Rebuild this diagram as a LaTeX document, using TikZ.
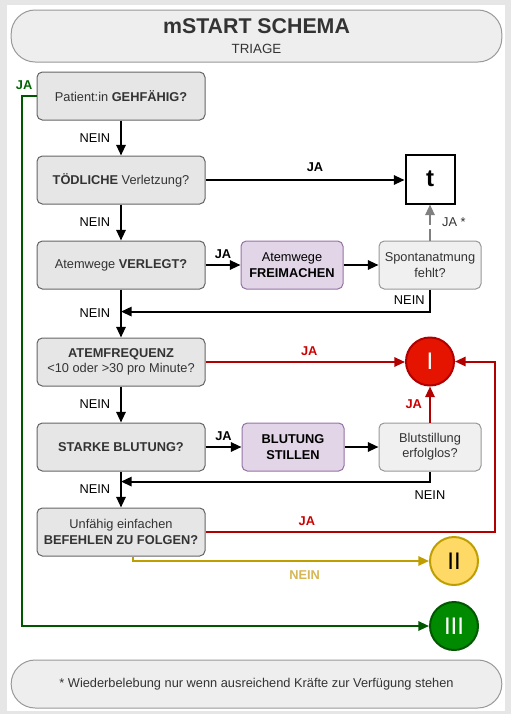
\documentclass[tikz,border=0pt]{standalone}
\usepackage{fontspec}
\setmainfont{Liberation Sans}
\usetikzlibrary{positioning, calc, arrows.meta}

\definecolor{pagegray}{HTML}{E6E6E6}
\definecolor{pillfill}{HTML}{EEEEEE}
\definecolor{boxfill}{HTML}{E6E6E6}
\definecolor{boxline}{HTML}{666666}
\definecolor{checkfill}{HTML}{F0F0F0}
\definecolor{checkline}{HTML}{999999}
\definecolor{actfill}{HTML}{E1D5E7}
\definecolor{actline}{HTML}{9673A6}
\definecolor{redfill}{HTML}{E51400}
\definecolor{redline}{HTML}{B20000}
\definecolor{redtext}{HTML}{CC0000}
\definecolor{yellowfill}{HTML}{FFD966}
\definecolor{yellowline}{HTML}{BF9F00}
\definecolor{yellowtext}{HTML}{D6B656}
\definecolor{greenfill}{HTML}{008A00}
\definecolor{greenline}{HTML}{005700}
\definecolor{greentext}{HTML}{006600}
\definecolor{textgray}{HTML}{333333}

\begin{document}
\begin{tikzpicture}[x=0.75pt, y=-0.75pt,
				font=\fontsize{9.6}{11.5}\selectfont,
				>={Triangle[length=8pt, width=7pt]},
				QuestionNode/.style={rectangle, rounded corners=4pt, draw=boxline, fill=boxfill, text=textgray, line width=0.75pt, minimum width=126pt, minimum height=36pt, align=center},
				ActionNode/.style={rectangle, rounded corners=4pt, draw=actline, fill=actfill, text=black, line width=0.75pt, minimum width=76.5pt, minimum height=36pt, align=center},
				CheckNode/.style={rectangle, rounded corners=4pt, draw=checkline, fill=checkfill, text=textgray, line width=0.75pt, minimum width=76.5pt, minimum height=36pt, align=center},
				ClassNode/.style={circle, line width=1.5pt, minimum size=36pt, inner sep=0pt, font=\fontsize{18}{20}\selectfont},
				PillNode/.style={rectangle, rounded corners=18pt, draw=checkline, fill=pillfill, text=textgray, line width=0.75pt, minimum width=368pt, align=center},
				FlowLine/.style={line width=1.5pt, ->},
				YesLabel/.style={font=\fontsize{9.6}{11.5}\selectfont\bfseries}]

			% Background
			\fill[pagegray] (0,0) rectangle (511,714);
			\fill[white] (7,5) rectangle (505,711);
			\useasboundingbox (0,0) rectangle (511,714);

			% Header and footer
			\node[PillNode, minimum height=39pt] (Title) at (256.5,36) {{\fontsize{16}{15}\selectfont\bfseries mSTART SCHEMA}\\[4pt]{\fontsize{10}{12}\selectfont TRIAGE}};
			\node[PillNode, minimum height=36pt] (Note) at (256.5,684) {* Wiederbelebung nur wenn ausreichend Kräfte zur Verfügung stehen};

			% Nodes
			\node[QuestionNode] (Walk) at (121,96) {Patient:in \textbf{GEHFÄHIG?}};
			\node[QuestionNode, below=26.25pt of Walk] (Fatal) {\textbf{TÖDLICHE} Verletzung?};
			\node[QuestionNode, below=27pt of Fatal] (Airway) {Atemwege \textbf{VERLEGT?}};
			\node[QuestionNode, below=36pt of Airway] (Breath) {\textbf{ATEMFREQUENZ}\\<10 oder >30 pro Minute?};
			\node[QuestionNode, below=27pt of Breath] (Bleed) {\textbf{STARKE BLUTUNG?}};
			\node[QuestionNode, below=27pt of Bleed] (Obey) {Unfähig einfachen\\\textbf{BEFEHLEN ZU FOLGEN?}};

			\node[ActionNode, right=26.25pt of Airway] (ClearAirway) {Atemwege\\\textbf{FREIMACHEN}};
			\node[CheckNode, right=26.25pt of ClearAirway] (NoBreath) {Spontanatmung\\fehlt?};
			\node[ActionNode, right=27pt of Bleed] (StopBleed) {\textbf{BLUTUNG}\\\textbf{STILLEN}};
			\node[CheckNode, right=25.5pt of StopBleed] (BleedFail) {Blutstillung\\erfolglos?};

			\node[draw, line width=1.5pt, minimum size=36.75pt, inner sep=0pt, font=\fontsize{18}{20}\selectfont\bfseries, above=27pt of NoBreath] (Dead) {t};
			\node[ClassNode, draw=redline, fill=redfill, text=white, above=27pt of BleedFail] (Red) {I};
			\node[ClassNode, draw=yellowline, fill=yellowfill, text=black] (Yellow) at (454,561) {II};
			\node[ClassNode, draw=greenline, fill=greenfill, text=white] (Green) at (454,626) {III};

			\coordinate (AirwayJoin) at ($(Airway.south)!0.46!(Breath.north)$);
			\coordinate (BleedJoin) at ($(Bleed.south)!0.28!(Obey.north)$);
			\coordinate[left=11.25pt of Walk.west] (GreenTurn);

			% Lines
			\draw[FlowLine] (Walk) -- node[left=4pt] {NEIN} (Fatal);
			\draw[FlowLine] (Fatal) -- node[left=4pt] {NEIN} (Airway);
			\draw[FlowLine] (Airway) -- node[left=4pt] {NEIN} (Breath);
			\draw[FlowLine] (Breath) -- node[left=4pt] {NEIN} (Bleed);
			\draw[FlowLine] (Bleed) -- node[left=4pt] {NEIN} (Obey);

			\draw[FlowLine] (Fatal.east) -- node[YesLabel, above=2pt, pos=0.55] {JA} (Fatal.east -| Dead.west);
			\draw[FlowLine] (Airway) -- node[YesLabel, above=1pt] {JA} (ClearAirway);
			\draw[FlowLine] (ClearAirway) -- (NoBreath);
			\draw[FlowLine, gray, dash pattern=on 9pt off 3pt] (NoBreath) -- node[right=5pt, text=textgray] {JA *} (Dead);
			\draw[FlowLine] (NoBreath.south) |- node[pos=0.25, left] {NEIN} (AirwayJoin);

			\draw[FlowLine] (Bleed) -- node[YesLabel, above=1pt] {JA} (StopBleed);
			\draw[FlowLine] (StopBleed) -- (BleedFail);
			\draw[FlowLine] (BleedFail.south) |- node[pos=0.5, below=3pt] {NEIN} (BleedJoin);

			\draw[FlowLine, redline] (Breath.east) -- node[YesLabel, text=redtext, above=1pt, pos=0.52] {JA} (Breath.east -| Red.west);
			\draw[FlowLine, redline] (BleedFail) -- node[YesLabel, text=redtext, left=2pt] {JA} (Red);
			\draw[FlowLine, redline] (Obey.east) -- node[YesLabel, text=redtext, above=1pt, pos=0.35] {JA} ($(Obey.east -| Red.east) + (40,0)$) |- (Red.east);

			\draw[FlowLine, yellowline] ([xshift=9pt]Obey.south) |- node[YesLabel, text=yellowtext, below=3pt, pos=0.79] {NEIN} (Yellow);
			\draw[FlowLine, greenline] (Walk.west) -- (GreenTurn) node[YesLabel, text=greentext, above=1pt, xshift=2pt] {JA} |- (Green);
		\end{tikzpicture}
\end{document}
